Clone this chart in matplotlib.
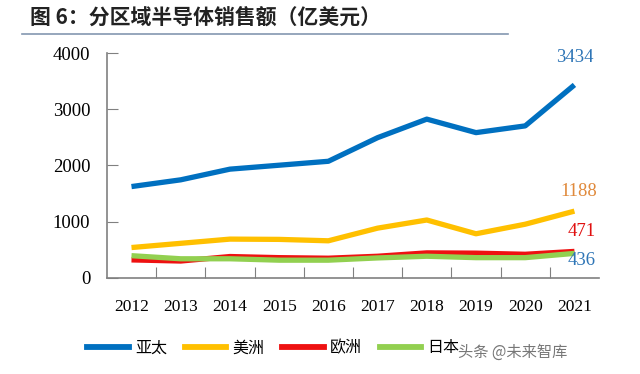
import matplotlib.pyplot as plt
from matplotlib.lines import Line2D

years = ['2012', '2013', '2014', '2015', '2016', '2017', '2018', '2019', '2020', '2021']
asia = [1625, 1745, 1935, 2005, 2075, 2495, 2825, 2585, 2705, 3434]
america = [540, 615, 690, 685, 660, 885, 1030, 785, 955, 1188]
europe = [320, 300, 380, 360, 350, 385, 445, 440, 420, 471]
japan = [395, 340, 340, 315, 315, 355, 385, 360, 360, 436]
names = ['亚太', '美洲', '欧洲', '日本']
colors = ['#0070C0', '#FFC000', '#EE1111', '#92D050']
end_colors = ['#2E75B6', '#E08A3C', '#E01010', '#2E75B6']

cjk = ['Noto Sans CJK SC', 'DejaVu Sans']
serif = 'Liberation Serif'

fig = plt.figure(figsize=(6.4, 3.74), dpi=100)
ax = fig.add_axes([0.167, 0.257, 0.769, 0.601])

x = list(range(len(years)))
series = [asia, america, europe, japan]
for s, c in zip(series, colors):
    ax.plot(x, s, color=c, lw=3.8, solid_capstyle='butt', solid_joinstyle='round')

ax.set_xlim(-0.5, 9.5)
ax.set_ylim(0, 4000)
ax.set_yticks([0, 1000, 2000, 3000, 4000])
ax.set_yticklabels(['0', '1000', '2000', '3000', '4000'], fontfamily=serif, fontsize=13.5)
ax.set_xticks([i + 0.5 for i in range(9)])
ax.set_xticklabels([])
ax.set_xticks(x, minor=True)
ax.set_xticklabels(years, minor=True, fontfamily=serif, fontsize=12.5)
ax.tick_params(axis='x', which='major', direction='in', length=8, color='#808080')
ax.tick_params(axis='x', which='minor', length=0, pad=15)
ax.tick_params(axis='y', direction='in', length=8, color='#808080', pad=12)
for side in ['top', 'right']:
    ax.spines[side].set_visible(False)
for side in ['left', 'bottom']:
    ax.spines[side].set_color('#808080')
    ax.spines[side].set_linewidth(1.2)

# end labels
label_pos = [(9.0, 3930), (9.08, 1530), (9.15, 818), (9.15, 302)]
for s, c, (lx, ly) in zip(series, end_colors, label_pos):
    ax.text(lx, ly, str(s[-1]), color=c, fontfamily=serif, fontsize=13.5,
            ha='center', va='center')

# legend
handles = [Line2D([0], [0], color=c, lw=4.2) for c in colors]
fig.legend(handles, names, loc='center', bbox_to_anchor=(0.427, 0.07), ncol=4,
           frameon=False, prop={'family': cjk, 'size': 11.5}, handlelength=2.6,
           handletextpad=0.4, columnspacing=1.1)

fig.text(0.047, 0.955, '图 6：分区域半导体销售额（亿美元）', fontfamily=cjk, fontsize=15,
         fontweight='bold', va='center', ha='left', color='#222222')
fig.add_artist(Line2D([0.034, 0.793], [0.909, 0.909], color='#8497B0', lw=1.2))
fig.text(0.715, 0.058, '头条 @未来智库', fontfamily=cjk, fontsize=11, color='#555555',
         va='center', ha='left', alpha=0.8)

fig.savefig('out.png', dpi=100)
